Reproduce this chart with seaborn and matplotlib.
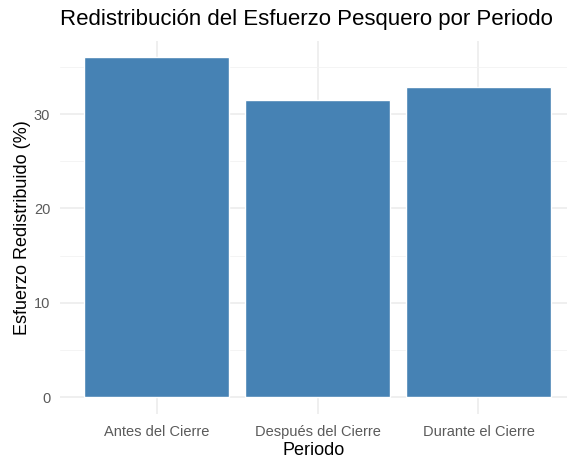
import matplotlib
matplotlib.use("Agg")
import matplotlib.pyplot as plt
import seaborn as sns
import pandas as pd
from matplotlib.ticker import MultipleLocator

# Data
periodos = ["Antes del Cierre", "Después del Cierre", "Durante el Cierre"]
esfuerzo = [36.0, 31.5, 32.9]

df = pd.DataFrame({"Periodo": periodos, "Esfuerzo": esfuerzo})

sns.set_theme(style="white")
plt.rcParams["font.family"] = ["Liberation Sans", "DejaVu Sans"]

fig = plt.figure(figsize=(5.67, 4.59), dpi=100)
ax = fig.add_axes([60 / 567, 45 / 459, 507 / 567, 373.5 / 459])

sns.barplot(data=df, x="Periodo", y="Esfuerzo", color="steelblue",
            saturation=1, width=0.9, ax=ax, zorder=3)

# ggplot-like minimal grid
ax.set_xlim(-0.6, 2.55)
ax.set_ylim(-1.8, 37.8)
ax.yaxis.set_major_locator(MultipleLocator(10))
ax.yaxis.set_minor_locator(MultipleLocator(5))
ax.grid(which="major", color="#EBEBEB", linewidth=1.1, zorder=0)
ax.grid(which="minor", axis="y", color="#F2F2F2", linewidth=0.6, zorder=0)
ax.set_axisbelow(True)
sns.despine(ax=ax, left=True, bottom=True)
ax.tick_params(axis="both", which="both", length=0, colors="#5A5A5A", labelsize=10.5)
ax.tick_params(axis="x", pad=8)
ax.tick_params(axis="y", pad=7)

ax.set_xlabel("Periodo", fontsize=13, color="black", labelpad=2)
ax.set_ylabel("Esfuerzo Redistribuido (%)", fontsize=13, color="black", labelpad=2)
fig.text(60 / 567, 1 - 20 / 459, "Redistribución del Esfuerzo Pesquero por Periodo",
         fontsize=16, color="black", ha="left", va="center")

fig.savefig("out.png", dpi=100)
